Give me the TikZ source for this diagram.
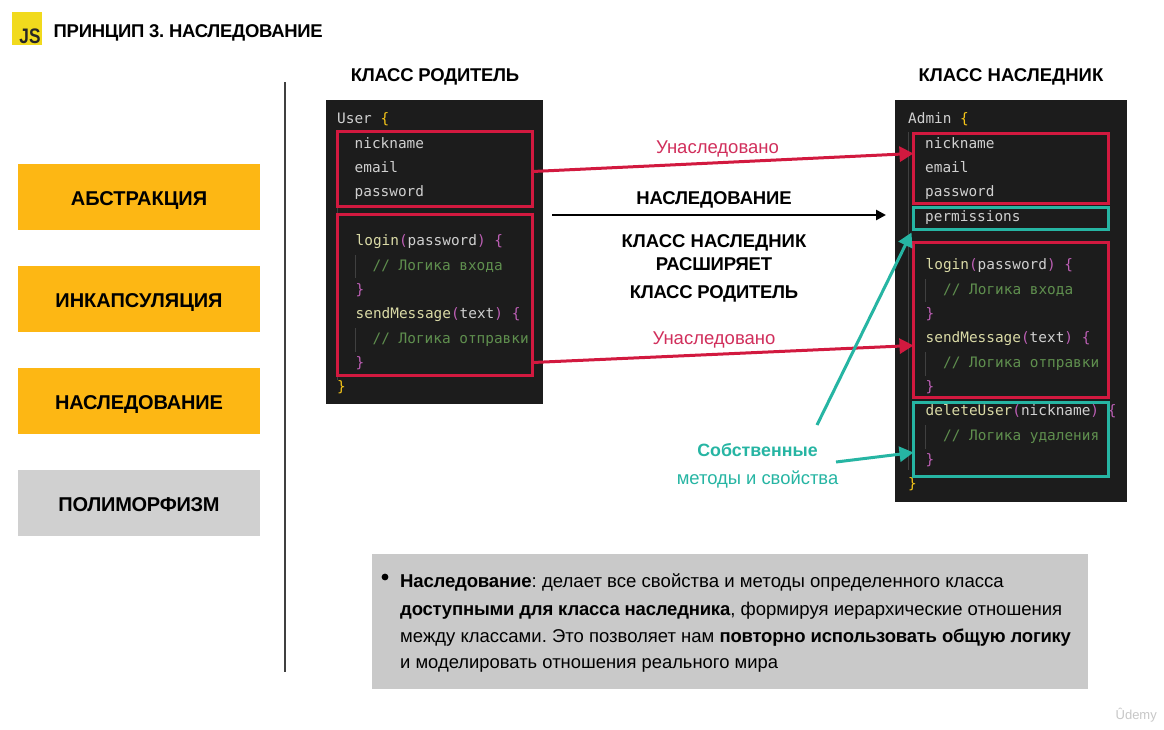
\documentclass[tikz,border=0pt]{standalone}
\usepackage{fontspec}
\usetikzlibrary{calc,arrows.meta}
\setmainfont{Liberation Sans}
\newfontfamily\codefont{DejaVu Sans Mono}
\definecolor{orangebox}{HTML}{FDB714}
\definecolor{greybox}{HTML}{D0D0D0}
\definecolor{notebox}{HTML}{C9C9C9}
\definecolor{codebg}{HTML}{1C1C1C}
\definecolor{cred}{HTML}{D2193F}
\definecolor{cteal}{HTML}{26B5A3}
\definecolor{lblred}{HTML}{D12F5C}
\definecolor{cw}{HTML}{D0D0D0}
\definecolor{cf}{HTML}{DADAA6}
\definecolor{cc}{HTML}{5F8F4E}
\definecolor{cp}{HTML}{BD5FB5}
\definecolor{cy}{HTML}{F5C518}
\definecolor{jsy}{HTML}{F1DA1D}
\newcommand{\W}[1]{\textcolor{cw}{#1}}
\newcommand{\F}[1]{\textcolor{cf}{#1}}
\newcommand{\Cm}[1]{\textcolor{cc}{#1}}
\newcommand{\Pp}[1]{\textcolor{cp}{#1}}
\newcommand{\Yy}[1]{\textcolor{cy}{#1}}
\newcommand{\Bn}[1]{{\bfseries\addfontfeature{LetterSpace=-1.1}#1}}
\newcommand{\Tight}[2]{{\addfontfeature{LetterSpace=#1}#2}}
\frenchspacing
\tikzset{
  x=1pt,y=-1pt,
  sidebox/.style={minimum width=242pt,minimum height=66pt,inner sep=0pt,outer sep=0pt,text height=16pt,text depth=0pt,font=\bfseries\fontsize{20}{20}\selectfont,fill=orangebox},
  head/.style={font=\bfseries\fontsize{18.5}{20}\selectfont,inner sep=0pt},
  code/.style={anchor=base west,inner sep=0pt,font=\codefont\fontsize{14.4}{15}\selectfont},
  codebox/.style={fill=codebg,draw=none,anchor=north west,inner sep=0pt,outer sep=0pt},
  frame/.style={draw=#1,line width=3pt,anchor=north west,inner sep=0pt,outer sep=0pt,fill=none},
  redline/.style={draw=cred,line width=3pt,-{Triangle[length=14pt,width=15pt]}},
  tealline/.style={draw=cteal,line width=3pt,-{Triangle[length=14pt,width=15pt]}},
  note/.style={anchor=base west,inner sep=0pt,font=\fontsize{18.5}{20}\selectfont},
  guide/.style={draw=white!16!codebg,line width=.7pt},
}
\begin{document}
\begin{tikzpicture}
\useasboundingbox (0,0) rectangle (1164,729);
\fill[white] (0,0) rectangle (1164,729);
% header
\node[fill=jsy,minimum width=30pt,minimum height=33pt,inner sep=0pt,outer sep=0pt,anchor=north west] (jsicon) at (12,12) {};
\node[anchor=base,inner sep=0pt,font=\bfseries\fontsize{21}{22}\selectfont,text=black!85] (jstext) at (30,43) {\scalebox{0.82}[1]{JS}};
\node[head,anchor=base west] (title) at (53.5,37) {\Tight{-1.6}{ПРИНЦИП 3. НАСЛЕДОВАНИЕ}};
% sidebar
\node[sidebox,anchor=north west] (s1) at (18,164) {АБСТРАКЦИЯ};
\node[sidebox,anchor=north west] (s2) at (18,266) {ИНКАПСУЛЯЦИЯ};
\node[sidebox,anchor=north west] (s3) at (18,368) {\Tight{-0.8}{НАСЛЕДОВАНИЕ}};
\node[sidebox,anchor=north west,fill=greybox] (s4) at (18,470) {\Tight{-1.3}{ПОЛИМОРФИЗМ}};
\coordinate (vtop) at (285,82);
\coordinate (vbot) at (285,672);
\draw[line width=1.2pt,draw=black!75] (vtop) -- (vbot);
% column heads
\node[head,anchor=base] (hp) at (435,81) {\Tight{-1.5}{КЛАСС РОДИТЕЛЬ}};
\node[head,anchor=base] (hc) at (1011,81) {КЛАСС НАСЛЕДНИК};
% code backgrounds
\node[codebox,minimum width=217pt,minimum height=304pt] (pbg) at (326,100) {};
\node[codebox,minimum width=232pt,minimum height=402pt] (cbg) at (895,100) {};
% parent code
\draw[guide] (337,132) -- (337,380);
\draw[guide] (355,255) -- (355,278);
\draw[guide] (355,328) -- (355,352);
\node[code] (p0) at (337,123) {\W{User }\Yy{\{}};
\node[code] (p1) at (354.5,148) {\W{nickname}};
\node[code] (p2) at (354.5,172) {\W{email}};
\node[code] (p3) at (354.5,196) {\W{password}};
\node[code] (p4) at (355.5,245) {\F{login}\Pp{(}\W{password}\Pp{)} \Pp{\{}};
\node[code] (p5) at (372.5,270) {\Cm{// Логика входа}};
\node[code] (p6) at (355.5,294) {\Pp{\}}};
\node[code] (p7) at (355.5,318) {\F{sendMessage}\Pp{(}\W{text}\Pp{)} \Pp{\{}};
\node[code] (p8) at (372.5,343) {\Cm{// Логика отправки}};
\node[code] (p9) at (355.5,367) {\Pp{\}}};
\node[code] (p10) at (337,391) {\Yy{\}}};
% child code
\draw[guide] (908,132) -- (908,470);
\draw[guide] (925.5,279) -- (925.5,302);
\draw[guide] (925.5,352) -- (925.5,376);
\draw[guide] (925.5,425) -- (925.5,449);
\node[code] (c0) at (908,123) {\W{Admin }\Yy{\{}};
\node[code] (c1) at (925,148) {\W{nickname}};
\node[code] (c2) at (925,172) {\W{email}};
\node[code] (c3) at (925,196) {\W{password}};
\node[code] (c4) at (925,221) {\W{permissions}};
\node[code] (c5) at (925.5,269) {\F{login}\Pp{(}\W{password}\Pp{)} \Pp{\{}};
\node[code] (c6) at (943,294) {\Cm{// Логика входа}};
\node[code] (c7) at (925.5,318) {\Pp{\}}};
\node[code] (c8) at (925.5,342) {\F{sendMessage}\Pp{(}\W{text}\Pp{)} \Pp{\{}};
\node[code] (c9) at (943,367) {\Cm{// Логика отправки}};
\node[code] (c10) at (925.5,391) {\Pp{\}}};
\node[code] (c11) at (925.5,415) {\F{deleteUser}\Pp{(}\W{nickname}\Pp{)} \Pp{\{}};
\node[code] (c12) at (943,440) {\Cm{// Логика удаления}};
\node[code] (c13) at (925.5,464) {\Pp{\}}};
\node[code] (c14) at (908,488) {\Yy{\}}};
% frames
\node[frame=cred,minimum width=195pt,minimum height=75pt] (pr1) at (337.5,131.5) {};
\node[frame=cred,minimum width=195pt,minimum height=161pt] (pr2) at (337.5,214.5) {};
\node[frame=cred,minimum width=195pt,minimum height=70pt] (cr1) at (913.5,133.5) {};
\node[frame=cteal,minimum width=195pt,minimum height=22pt] (ct1) at (913.5,207.5) {};
\node[frame=cred,minimum width=195pt,minimum height=155pt] (cr2) at (913.5,242.5) {};
\node[frame=cteal,minimum width=195pt,minimum height=74pt] (ct2) at (913.5,402.5) {};
% arrows
\draw[redline] ([yshift=-2.5pt]pr1.east) -- ([yshift=15pt]cr1.west);
\draw[redline] ([yshift=-67.5pt]pr2.east) -- ([yshift=-25.5pt]cr2.west);
\coordinate (bstart) at (552,215);
\coordinate (bend) at (886,215);
\draw[line width=2.5pt,-{Triangle[length=10pt,width=10pt]}] (bstart) -- (bend);
% centre labels
\node[anchor=base,inner sep=0pt,text=lblred,font=\fontsize{18.5}{20}\selectfont] (l1) at (717.5,153) {Унаследовано};
\node[anchor=base,inner sep=0pt,text=lblred,font=\fontsize{18.5}{20}\selectfont] (l2) at (714,344) {Унаследовано};
\node[head,anchor=base] (l3) at (714,204) {\Tight{-0.7}{НАСЛЕДОВАНИЕ}};
\node[head,anchor=base] (l4) at (714,247) {КЛАСС НАСЛЕДНИК};
\node[head,anchor=base] (l5) at (714,270) {\Tight{-1}{РАСШИРЯЕТ}};
\node[head,anchor=base] (l6) at (714,298) {\Tight{-1.5}{КЛАСС РОДИТЕЛЬ}};
\node[anchor=base,inner sep=0pt,text=cteal,font=\bfseries\fontsize{17.8}{20}\selectfont] (own1) at (757.5,456) {Собственные};
\node[anchor=base,inner sep=0pt,text=cteal,font=\fontsize{18.4}{20}\selectfont] (own2) at (757.5,484) {методы и свойства};
\coordinate (t1s) at (817,425);
\coordinate (t2s) at (836,462);
\draw[tealline] (t1s) -- ([xshift=-2pt,yshift=-3pt]ct1.south west);
\draw[tealline] (t2s) -- ([yshift=-13pt]ct2.west);
% note
\node[fill=notebox,minimum width=716pt,minimum height=135pt,inner sep=0pt,outer sep=0pt,anchor=north west] (nbg) at (372,554) {};
\fill[black] (385,577) circle (3.4);
\node[note,font=\fontsize{18.6}{20}\selectfont] (n1) at (400,587) {\Bn{Наследование}: делает все свойства и методы определенного класса};
\node[note] (n2) at (400,615) {\Bn{доступными для класса наследника}, формируя иерархические отношения};
\node[note] (n3) at (400,642) {между классами. Это позволяет нам \Bn{повторно использовать общую логику}};
\node[note,font=\fontsize{18.4}{20}\selectfont] (n4) at (400,668) {и моделировать отношения реального мира};
% watermark
\node[anchor=base east,inner sep=0pt,text=black!22,font=\fontsize{13}{14}\selectfont] (wm) at (1157,719) {Ûdemy};
\end{tikzpicture}
\end{document}
